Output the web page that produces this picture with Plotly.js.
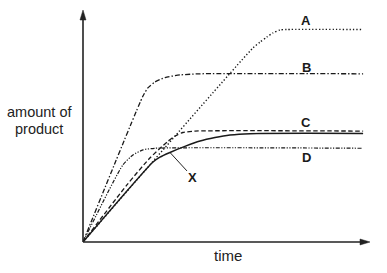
<!DOCTYPE html>
<html>
<head>
<meta charset="utf-8">
<script src="https://cdn.plot.ly/plotly-3.0.1.min.js"></script>
<style>html,body{margin:0;padding:0;background:#fff;}#chart{width:387px;height:273px;}</style>
</head>
<body>
<div id="chart"></div>
<script>
// time (arbitrary units 0-100) and amount of product (arbitrary units 0-100)
var timeA = [0, 59.2, 61.7, 64.1, 66.2, 68.6, 71.1, 97.6];
var productA = [0, 83.6, 86.2, 88.4, 90.1, 91.4, 91.6, 91.6];

var timeB = [0, 20.9, 22.6, 25.1, 28.6, 33.8, 40.8, 97.6];
var productB = [0, 62.9, 66.4, 69.0, 70.9, 72.0, 72.5, 72.5];

var timeC = [0, 15.3, 23.3, 29.3, 32.1, 34.8, 39.0, 97.6];
var productC = [0, 24.6, 36.2, 43.1, 45.7, 47.2, 47.8, 47.8];

var timeD = [0, 13.9, 17.4, 20.9, 25.1, 97.6];
var productD = [0, 33.2, 37.5, 39.7, 40.4, 40.4];

var timeX = [0, 24.4, 26.8, 30.3, 35.5, 40.8, 46.0, 51.2, 58.2, 97.6];
var productX = [0, 34.5, 36.6, 38.6, 41.2, 43.5, 45.0, 46.1, 46.7, 46.8];

var curveLabels = ['A', 'B', 'C', 'D'];
var labelTime = [77.7, 77.7, 77.7, 77.7];
var labelProduct = [95.6, 75.2, 51.5, 36.4];

var xLabel = 'X';
var xPointTime = 30.3, xPointProduct = 38.6;

var xAxisTitle = 'time';
var yAxisTitleLines = ['amount of', 'product'];

var ink = '#1a1a1a';
var traces = [
  {x: timeA, y: productA, mode: 'lines', line: {color: ink, width: 1.4, dash: '1.3px,2.1px', shape: 'spline', smoothing: 0.6}},
  {x: timeB, y: productB, mode: 'lines', line: {color: ink, width: 1.3, dash: '5px,2px,1.4px,2px', shape: 'spline', smoothing: 0.6}},
  {x: timeC, y: productC, mode: 'lines', line: {color: ink, width: 1.3, dash: '4.5px,2.5px', shape: 'spline', smoothing: 0.6}},
  {x: timeD, y: productD, mode: 'lines', line: {color: ink, width: 1.2, dash: '4px,1.5px,1.2px,1.5px,1.2px,1.5px', shape: 'spline', smoothing: 0.6}},
  {x: timeX, y: productX, mode: 'lines', line: {color: ink, width: 1.5, shape: 'spline', smoothing: 0.6}}
];

var font = 'Liberation Sans, Arial, sans-serif';
var annotations = [];
for (var i = 0; i < curveLabels.length; i++) {
  annotations.push({x: labelTime[i], y: labelProduct[i], xref: 'x', yref: 'y', text: '<b>' + curveLabels[i] + '</b>',
    showarrow: false, xanchor: 'center', yanchor: 'middle', font: {family: font, size: 13, color: ink}});
}
annotations.push({x: xPointTime, y: xPointProduct, xref: 'x', yref: 'y', text: '<b>' + xLabel + '</b>',
  showarrow: true, arrowhead: 0, arrowwidth: 1, arrowcolor: '#222', ax: 23, ay: 25, standoff: 0,
  font: {family: font, size: 13, color: ink}});
annotations.push({x: (227.5 - 83) / 287, y: -(255.5 - 242) / 232, xref: 'paper', yref: 'paper', text: xAxisTitle,
  showarrow: false, xanchor: 'center', yanchor: 'middle', font: {family: font, size: 15, color: '#222'}});
annotations.push({x: (39 - 83) / 287, y: (242 - 112.4) / 232, xref: 'paper', yref: 'paper', text: yAxisTitleLines[0],
  showarrow: false, xanchor: 'center', yanchor: 'middle', font: {family: font, size: 14.5, color: '#222'}});
annotations.push({x: (39 - 83) / 287, y: (242 - 129.4) / 232, xref: 'paper', yref: 'paper', text: yAxisTitleLines[1],
  showarrow: false, xanchor: 'center', yanchor: 'middle', font: {family: font, size: 14.5, color: '#222'}});

var ax = '#222';
var shapes = [
  {type: 'line', xref: 'paper', yref: 'paper', x0: 0, y0: 0, x1: 0.975, y1: 0, line: {color: ax, width: 1.6}},
  {type: 'path', xref: 'paper', yref: 'paper', path: 'M1,0 L0.9652,0.0129 L0.9652,-0.0129 Z', fillcolor: ax, line: {color: ax, width: 0.5}},
  {type: 'line', xref: 'paper', yref: 'paper', x0: 0, y0: 0, x1: 0, y1: 0.97, line: {color: ax, width: 1.6}},
  {type: 'path', xref: 'paper', yref: 'paper', path: 'M0,1 L0.0105,0.9569 L-0.0105,0.9569 Z', fillcolor: ax, line: {color: ax, width: 0.5}}
];

var layout = {
  width: 387, height: 273,
  margin: {l: 83, r: 17, t: 10, b: 31},
  paper_bgcolor: '#fff', plot_bgcolor: '#fff',
  showlegend: false,
  xaxis: {range: [0, 100], showgrid: false, zeroline: false, showline: false, showticklabels: false, ticks: '', fixedrange: true},
  yaxis: {range: [0, 100], showgrid: false, zeroline: false, showline: false, showticklabels: false, ticks: '', fixedrange: true},
  annotations: annotations,
  shapes: shapes
};

Plotly.newPlot('chart', traces, layout, {displayModeBar: false, staticPlot: true});
</script>
</body>
</html>
